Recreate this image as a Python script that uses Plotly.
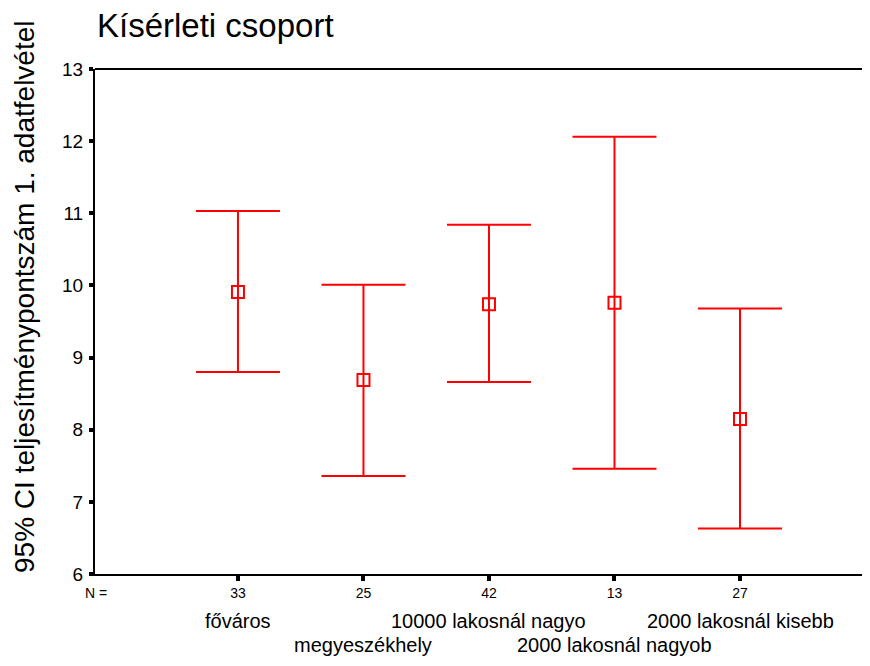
import plotly.graph_objects as go

categories = ["főváros", "megyeszékhely", "10000 lakosnál nagyo", "2000 lakosnál nagyob", "2000 lakosnál kisebb"]
n_values = ["33", "25", "42", "13", "27"]
means = [9.91, 8.69, 9.74, 9.76, 8.15]
upper = [11.03, 10.01, 10.84, 12.06, 9.68]
lower = [8.80, 7.36, 8.66, 7.46, 6.63]
y_ticks = [6, 7, 8, 9, 10, 11, 12, 13]

RED = "#FF0000"
FONT = "Liberation Sans, Arial, sans-serif"

err_plus = [u - m for u, m in zip(upper, means)]
err_minus = [m - l for m, l in zip(means, lower)]

fig = go.Figure()
fig.add_trace(go.Scatter(
    x=categories, y=means, mode="markers",
    marker=dict(symbol="square-open", size=12, color=RED, line=dict(color=RED, width=2)),
    error_y=dict(type="data", symmetric=False, array=err_plus, arrayminus=err_minus,
                 color=RED, thickness=2, width=42),
    showlegend=False, hoverinfo="skip",
))

fig.update_layout(
    width=854, height=650,
    margin=dict(l=87, r=0, t=61, b=84),
    paper_bgcolor="white", plot_bgcolor="white",
    font=dict(family=FONT, color="black"),
    xaxis=dict(type="category", range=[-1.139, 4.972], showgrid=False, zeroline=False,
               showline=True, linecolor="black", linewidth=2,
               ticks="outside", ticklen=5, tickwidth=4, tickcolor="black",
               tickmode="array", tickvals=categories, ticktext=n_values,
               tickfont=dict(size=14, family=FONT)),
    yaxis=dict(range=[6, 13], showgrid=False, zeroline=False,
               showline=True, linecolor="black", linewidth=2,
               ticks="outside", ticklen=4, tickwidth=4, tickcolor="black",
               tickmode="array", tickvals=y_ticks, ticklabelstandoff=2,
               tickfont=dict(size=19, family=FONT)),
    shapes=[dict(type="line", xref="paper", yref="paper", x0=0, x1=1, y0=1, y1=1,
                 line=dict(color="black", width=2))],
)

annotations = [
    dict(text="Kísérleti csoport", xref="paper", yref="paper", x=0, y=1, xanchor="left",
         yanchor="middle", xshift=0, yshift=44, showarrow=False, font=dict(size=33, family=FONT)),
    dict(text="95% CI teljesítménypontszám 1. adatfelvétel", xref="paper", yref="paper",
         x=0, y=0, xshift=-71, yshift=277, textangle=-90, xanchor="center", yanchor="middle",
         showarrow=False, font=dict(size=28, family=FONT)),
    dict(text="N =", xref="paper", yref="paper", x=0, y=0, xanchor="center", yanchor="middle",
         xshift=1, yshift=-19, showarrow=False, font=dict(size=14, family=FONT)),
]
for i, c in enumerate(categories):
    annotations.append(dict(text=c, xref="x", yref="paper", x=c, y=0, xanchor="center",
                            yanchor="middle", yshift=-47 if i % 2 == 0 else -71,
                            showarrow=False, font=dict(size=20, family=FONT)))
fig.update_layout(annotations=annotations)

fig.write_html("out.html")
